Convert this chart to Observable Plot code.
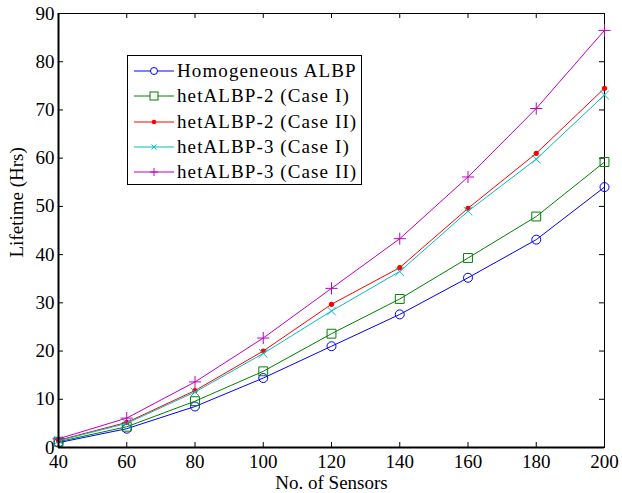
<!DOCTYPE html>
<html>
<head>
<meta charset="utf-8">
<script src="https://cdn.jsdelivr.net/npm/d3@7"></script>
<script src="https://cdn.jsdelivr.net/npm/@observablehq/plot@0.6"></script>
<style>
  html, body { margin: 0; padding: 0; background: #fff; }
  #wrap { position: relative; width: 622px; height: 493px; font-family: "Liberation Serif", "Times New Roman", serif; }
  #legend { position: absolute; left: 127px; top: 55px; width: 235px; height: 130px; border: 1px solid #000; background: #fff; box-sizing: border-box; }
  .row { position: absolute; left: 0; height: 20px; display: flex; align-items: center; }
  .row svg { width: 48px; height: 20px; flex: none; }
  .row span { font-size: 19px; letter-spacing: 1.1px; color: #000; white-space: nowrap; margin-left: 1px; }
</style>
</head>
<body>
<div id="wrap"><div id="chart"></div><div id="legend"></div></div>
<script>
const sensors = [40, 60, 80, 100, 120, 140, 160, 180, 200];
const seriesNames = ["Homogeneous ALBP", "hetALBP-2 (Case I)", "hetALBP-2 (Case II)", "hetALBP-3 (Case I)", "hetALBP-3 (Case II)"];
const homogeneous = [1.0, 3.9, 8.5, 14.4, 21.0, 27.6, 35.2, 43.1, 54.0];
const het2case1  = [1.2, 4.3, 9.6, 15.8, 23.6, 30.8, 39.3, 47.9, 59.2];
const het2case2  = [1.5, 5.2, 11.8, 20.0, 29.7, 37.3, 49.6, 61.0, 74.5];
const het3case1  = [1.4, 5.0, 11.5, 19.5, 28.3, 36.5, 49.0, 59.8, 73.1];
const het3case2  = [1.8, 6.1, 13.6, 22.7, 33.0, 43.3, 56.1, 70.3, 86.5];
const xTicks = [40, 60, 80, 100, 120, 140, 160, 180, 200];
const yTicks = [0, 10, 20, 30, 40, 50, 60, 70, 80, 90];

const colors = ["#0000ff", "#008000", "#ff0000", "#00bfbf", "#bf00bf"];
const symbols = ["circle", "square", "circle", "times", "plus"];
const allValues = [homogeneous, het2case1, het2case2, het3case1, het3case2];

const data = [];
allValues.forEach((vals, si) => vals.forEach((v, i) => data.push({series: seriesNames[si], idx: si, x: sensors[i], y: v})));

const W = 622, H = 493;
const mL = 58, mR = 18, mT = 13, mB = 46;
const innerW = W - mL - mR, innerH = H - mT - mB;
const tk = 5;

const marks = [];
// inward ticks on four sides
marks.push(Plot.tickX(xTicks, {x: d => d, insetTop: innerH - tk, stroke: "#000"}));
marks.push(Plot.tickX(xTicks, {x: d => d, insetBottom: innerH - tk, stroke: "#000"}));
marks.push(Plot.tickY(yTicks, {y: d => d, insetRight: innerW - tk, stroke: "#000"}));
marks.push(Plot.tickY(yTicks, {y: d => d, insetLeft: innerW - tk, stroke: "#000"}));
marks.push(Plot.frame({stroke: "#000", strokeWidth: 1}));
marks.push(Plot.axisX(xTicks, {tickSize: 0, tickPadding: 7, fontSize: 19, label: null}));
marks.push(Plot.axisY(yTicks, {tickSize: 0, tickPadding: 4, fontSize: 19, label: null}));
seriesNames.forEach((name, si) => {
  const d = data.filter(r => r.idx === si);
  marks.push(Plot.line(d, {x: "x", y: "y", stroke: colors[si], strokeWidth: 1}));
  if (si === 2) {
    marks.push(Plot.dot(d, {x: "x", y: "y", r: 2.6, fill: colors[si], stroke: "none"}));
  } else if (si === 1) {
    marks.push(Plot.dot(d, {x: "x", y: "y", symbol: "square", r: 5, fill: "none", stroke: colors[si], strokeWidth: 1}));
  } else if (si === 0) {
    marks.push(Plot.dot(d, {x: "x", y: "y", r: 4.5, fill: "none", stroke: colors[si], strokeWidth: 1}));
  } else {
    marks.push(Plot.dot(d, {x: "x", y: "y", symbol: symbols[si], r: 4, fill: "none", stroke: colors[si], strokeWidth: 1}));
  }
});
marks.push(Plot.ruleX([40], {stroke: "#000", strokeWidth: 2}));
marks.push(Plot.ruleY([0], {stroke: "#000", strokeWidth: 2}));
marks.push(Plot.text(["No. of Sensors"], {frameAnchor: "bottom", dy: 41, text: d => d, fontSize: 19, fill: "#000"}));
marks.push(Plot.text(["Lifetime (Hrs)"], {frameAnchor: "left", dx: -42, dy: 27, rotate: -90, text: d => d, fontSize: 19, fill: "#000"}));

const chart = Plot.plot({
  width: W, height: H,
  marginLeft: mL, marginRight: mR, marginTop: mT, marginBottom: mB,
  style: {fontFamily: '"Liberation Serif", "Times New Roman", serif', color: "#000", background: "#fff", overflow: "visible"},
  x: {domain: [40, 200]},
  y: {domain: [0, 90]},
  marks
});
document.getElementById("chart").appendChild(chart);

// legend
const legend = document.getElementById("legend");
seriesNames.forEach((name, si) => {
  const row = document.createElement("div");
  row.className = "row";
  row.style.top = (5 + si * 25.3) + "px";
  const svg = d3.create("svg").attr("viewBox", "0 0 48 20");
  svg.append("line").attr("x1", 6).attr("x2", 46).attr("y1", 10).attr("y2", 10).attr("stroke", colors[si]);
  const cx = 26, cy = 10;
  if (si === 0) svg.append("circle").attr("cx", cx).attr("cy", cy).attr("r", 3.5).attr("fill", "#fff").attr("stroke", colors[si]);
  else if (si === 1) svg.append("rect").attr("x", cx - 4).attr("y", cy - 4).attr("width", 8).attr("height", 8).attr("fill", "#fff").attr("stroke", colors[si]);
  else if (si === 2) svg.append("circle").attr("cx", cx).attr("cy", cy).attr("r", 2.3).attr("fill", colors[si]);
  else if (si === 3) svg.append("path").attr("d", `M${cx-2.5},${cy-2.5}L${cx+2.5},${cy+2.5}M${cx-2.5},${cy+2.5}L${cx+2.5},${cy-2.5}`).attr("stroke", colors[si]);
  else svg.append("path").attr("d", `M${cx-4},${cy}L${cx+4},${cy}M${cx},${cy-4}L${cx},${cy+4}`).attr("stroke", colors[si]);
  row.appendChild(svg.node());
  const span = document.createElement("span");
  span.textContent = name;
  row.appendChild(span);
  legend.appendChild(row);
});
</script>
</body>
</html>
